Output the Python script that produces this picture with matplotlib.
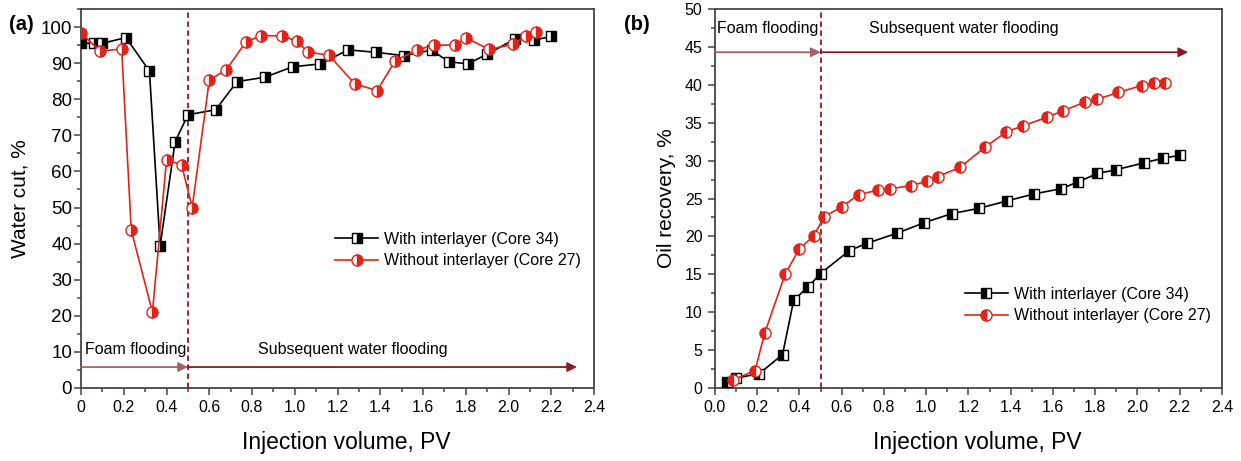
import matplotlib.pyplot as plt
from matplotlib.ticker import MultipleLocator, FuncFormatter

plt.rcParams['font.family'] = ['Liberation Sans', 'DejaVu Sans']

# (a) water cut, %
wc_with_x = [0.0, 0.06, 0.10, 0.21, 0.32, 0.37, 0.44, 0.50, 0.63, 0.73, 0.86, 0.99,
             1.12, 1.25, 1.38, 1.51, 1.64, 1.72, 1.81, 1.90, 2.03, 2.12, 2.20]
wc_with_y = [95.5, 95.5, 95.5, 97.1, 87.8, 39.4, 68.2, 75.7, 77.1, 84.9, 86.1, 89.0,
             89.8, 93.7, 93.0, 92.1, 93.6, 90.4, 89.8, 92.5, 96.7, 96.4, 97.4]
wc_without_x = [0.0, 0.09, 0.19, 0.235, 0.334, 0.40, 0.47, 0.52, 0.60, 0.68, 0.77, 0.84,
                0.94, 1.01, 1.06, 1.16, 1.28, 1.385, 1.47, 1.57, 1.65, 1.75, 1.80,
                1.91, 2.02, 2.08, 2.13]
wc_without_y = [98.3, 93.4, 93.9, 43.7, 21.0, 63.2, 61.9, 50.0, 85.3, 88.2, 95.8, 97.6,
                97.6, 96.1, 93.1, 92.2, 84.3, 82.4, 90.7, 93.6, 95.0, 95.0, 97.0,
                93.8, 95.2, 97.5, 98.7]

# (b) oil recovery, %
or_with_x = [0.055, 0.10, 0.21, 0.32, 0.373, 0.44, 0.50, 0.635, 0.72, 0.86, 0.99, 1.12,
             1.25, 1.385, 1.51, 1.64, 1.72, 1.81, 1.90, 2.03, 2.12, 2.20]
or_with_y = [0.8, 1.3, 1.9, 4.4, 11.6, 13.3, 15.1, 18.1, 19.1, 20.4, 21.8, 23.0,
             23.7, 24.7, 25.6, 26.3, 27.2, 28.3, 28.8, 29.7, 30.3, 30.7]
or_without_x = [0.087, 0.19, 0.235, 0.332, 0.398, 0.468, 0.517, 0.60, 0.68, 0.77, 0.83,
                0.93, 1.005, 1.055, 1.16, 1.28, 1.38, 1.46, 1.57, 1.65, 1.75, 1.81,
                1.91, 2.02, 2.08, 2.13]
or_without_y = [1.1, 2.3, 7.2, 15.0, 18.3, 20.1, 22.6, 23.9, 25.5, 26.1, 26.3, 26.7,
                27.3, 27.9, 29.1, 31.8, 33.8, 34.6, 35.7, 36.6, 37.7, 38.1, 39.0,
                39.9, 40.2, 40.3]

labels = ['With interlayer (Core 34)', 'Without interlayer (Core 27)']
stage_labels = ['Foam flooding', 'Subsequent water flooding']

RED = '#e2231a'
MAROON = '#8b1a22'
SPINE = '#4a4343'

fig = plt.figure(figsize=(12.41, 4.61), dpi=100)
ax1 = fig.add_axes([0.0653, 0.1584, 0.4134, 0.822])
ax2 = fig.add_axes([0.5761, 0.1584, 0.4085, 0.822])


def style_axis(ax, ysize, ypad):
    for s in ax.spines.values():
        s.set_color(SPINE)
        s.set_linewidth(1.3)
    ax.tick_params(which='both', direction='out', top=False, right=False,
                   color=SPINE, width=1.1)
    ax.tick_params(axis='x', labelsize=11.5)
    ax.tick_params(axis='y', labelsize=ysize, pad=ypad)
    ax.tick_params(which='major', length=5)
    ax.tick_params(which='minor', length=3)
    ax.set_xlim(0, 2.4)
    ax.xaxis.set_major_locator(MultipleLocator(0.2))
    ax.xaxis.set_minor_locator(MultipleLocator(0.1))
    ax.set_xlabel('Injection volume, PV', fontsize=16.5, labelpad=12)
    ax.xaxis.label.set_x(0.518)


def stage_arrows(ax, y, x_end):
    ax.annotate('', xy=(0.5, y), xytext=(0, y),
                arrowprops=dict(arrowstyle='-|>', color='#a86068', lw=1.3,
                                mutation_scale=14, shrinkA=0, shrinkB=0))
    ax.annotate('', xy=(x_end, y), xytext=(0.5, y),
                arrowprops=dict(arrowstyle='-|>', color=MAROON, lw=1.3,
                                mutation_scale=14, shrinkA=0, shrinkB=0))
    ax.axvline(0.5, color=MAROON, ls=(0, (3, 2)), lw=1.3, zorder=1)


legend_kw = dict(loc='center left', frameon=False, fontsize=11.5, handlelength=2.7,
                 handletextpad=0.35, labelspacing=0.4, borderpad=0, borderaxespad=0)

# panel (a)
style_axis(ax1, 13.5, 1.5)
ax1.set_ylim(0, 105)
ax1.yaxis.set_major_locator(MultipleLocator(10))
ax1.yaxis.set_minor_locator(MultipleLocator(5))
ax1.xaxis.set_major_formatter(FuncFormatter(lambda v, p: '0' if abs(v) < 1e-9 else f'{v:.1f}'))
ax1.set_ylabel('Water cut, %', fontsize=15, labelpad=8)
ax1.plot(wc_with_x, wc_with_y, color='black', lw=1.2, marker='s', ms=6.5,
         fillstyle='right', mfc='black', mfcalt='white', mec='black', mew=1.0,
         label=labels[0], zorder=3)
ax1.plot(wc_without_x, wc_without_y, color=RED, lw=1.2, marker='o', ms=8,
         fillstyle='right', mfc=RED, mfcalt='white', mec=RED, mew=1.0,
         label=labels[1], zorder=3)
stage_arrows(ax1, 5.8, 2.32)
ax1.text(0.02, 9.5, stage_labels[0], fontsize=11.5)
ax1.text(0.83, 9.5, stage_labels[1], fontsize=11.5)
ax1.legend(bbox_to_anchor=(0.495, 0.364), **legend_kw)
fig.text(0.007, 0.935, '(a)', fontsize=14.5, fontweight='bold')

# panel (b)
style_axis(ax2, 11.5, 4)
ax2.set_ylim(0, 50)
ax2.yaxis.set_major_locator(MultipleLocator(5))
ax2.yaxis.set_minor_locator(MultipleLocator(2.5))
ax2.xaxis.set_major_formatter(plt.FormatStrFormatter('%.1f'))
ax2.set_ylabel('Oil recovery, %', fontsize=15, labelpad=6)
ax2.plot(or_with_x, or_with_y, color='black', lw=1.2, marker='s', ms=6.5,
         fillstyle='left', mfc='black', mfcalt='white', mec='black', mew=1.0,
         label=labels[0], zorder=3)
ax2.plot(or_without_x, or_without_y, color=RED, lw=1.2, marker='o', ms=8,
         fillstyle='left', mfc=RED, mfcalt='white', mec=RED, mew=1.0,
         label=labels[1], zorder=3)
stage_arrows(ax2, 44.3, 2.24)
ax2.text(0.01, 46.8, stage_labels[0], fontsize=11.5)
ax2.text(0.73, 46.8, stage_labels[1], fontsize=11.5)
ax2.legend(bbox_to_anchor=(0.493, 0.219), **legend_kw)
fig.text(0.503, 0.935, '(b)', fontsize=14.5, fontweight='bold')

plt.savefig('out.png', dpi=100)
